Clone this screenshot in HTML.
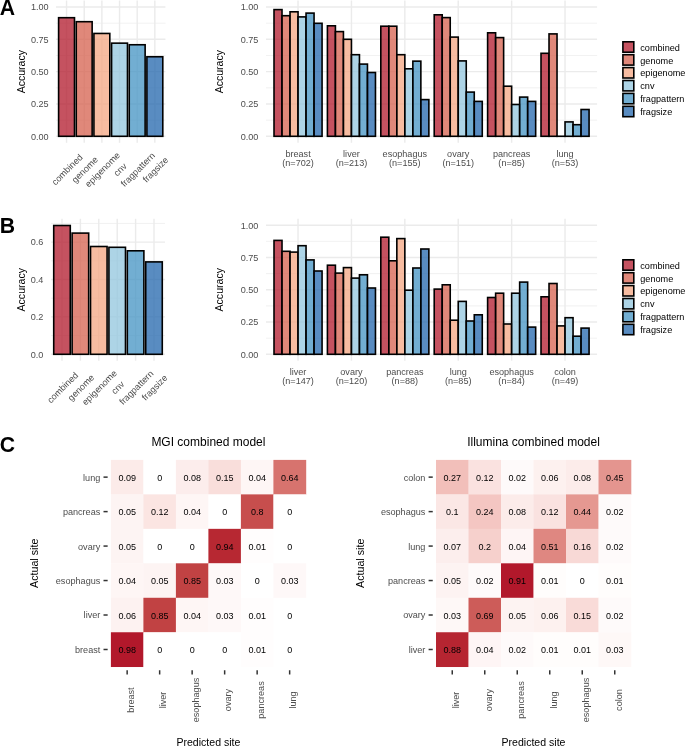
<!DOCTYPE html>
<html><head><meta charset="utf-8"><title>figure</title>
<style>
html,body{margin:0;padding:0;background:#fff;width:685px;height:746px;overflow:hidden;}
svg{display:block;filter:blur(0.4px);font-family:"Liberation Sans", sans-serif;}
</style></head>
<body><svg width="685" height="746" viewBox="0 0 685 746">
<rect x="0" y="0" width="685" height="746" fill="#fff"/>
<line x1="55.95" y1="120.14" x2="165.44" y2="120.14" stroke="#EBEBEB" stroke-width="0.71"/>
<line x1="55.95" y1="87.81" x2="165.44" y2="87.81" stroke="#EBEBEB" stroke-width="0.71"/>
<line x1="55.95" y1="55.49" x2="165.44" y2="55.49" stroke="#EBEBEB" stroke-width="0.71"/>
<line x1="55.95" y1="23.16" x2="165.44" y2="23.16" stroke="#EBEBEB" stroke-width="0.71"/>
<line x1="55.95" y1="136.3" x2="165.44" y2="136.3" stroke="#EBEBEB" stroke-width="1.42"/>
<line x1="55.95" y1="103.98" x2="165.44" y2="103.98" stroke="#EBEBEB" stroke-width="1.42"/>
<line x1="55.95" y1="71.65" x2="165.44" y2="71.65" stroke="#EBEBEB" stroke-width="1.42"/>
<line x1="55.95" y1="39.33" x2="165.44" y2="39.33" stroke="#EBEBEB" stroke-width="1.42"/>
<line x1="55.95" y1="7" x2="165.44" y2="7" stroke="#EBEBEB" stroke-width="1.42"/>
<line x1="66.55" y1="0.5" x2="66.55" y2="142.8" stroke="#EBEBEB" stroke-width="1.42"/>
<line x1="84.21" y1="0.5" x2="84.21" y2="142.8" stroke="#EBEBEB" stroke-width="1.42"/>
<line x1="101.87" y1="0.5" x2="101.87" y2="142.8" stroke="#EBEBEB" stroke-width="1.42"/>
<line x1="119.53" y1="0.5" x2="119.53" y2="142.8" stroke="#EBEBEB" stroke-width="1.42"/>
<line x1="137.19" y1="0.5" x2="137.19" y2="142.8" stroke="#EBEBEB" stroke-width="1.42"/>
<line x1="154.85" y1="0.5" x2="154.85" y2="142.8" stroke="#EBEBEB" stroke-width="1.42"/>
<rect x="58.6" y="17.7" width="15.89" height="118.6" fill="#B2182B" fill-opacity="0.75" stroke="#000" stroke-width="1.6"/>
<rect x="76.26" y="21.7" width="15.89" height="114.6" fill="#D6604D" fill-opacity="0.75" stroke="#000" stroke-width="1.6"/>
<rect x="93.92" y="33.45" width="15.89" height="102.85" fill="#F4A582" fill-opacity="0.75" stroke="#000" stroke-width="1.6"/>
<rect x="111.58" y="43.15" width="15.89" height="93.15" fill="#92C5DE" fill-opacity="0.75" stroke="#000" stroke-width="1.6"/>
<rect x="129.24" y="44.75" width="15.89" height="91.55" fill="#4393C3" fill-opacity="0.75" stroke="#000" stroke-width="1.6"/>
<rect x="146.9" y="56.75" width="15.89" height="79.55" fill="#2166AC" fill-opacity="0.75" stroke="#000" stroke-width="1.6"/>
<text x="48.6" y="139.6" font-size="9.1" fill="#4D4D4D" text-anchor="end">0.00</text>
<text x="48.6" y="107.28" font-size="9.1" fill="#4D4D4D" text-anchor="end">0.25</text>
<text x="48.6" y="74.95" font-size="9.1" fill="#4D4D4D" text-anchor="end">0.50</text>
<text x="48.6" y="42.62" font-size="9.1" fill="#4D4D4D" text-anchor="end">0.75</text>
<text x="48.6" y="10.3" font-size="9.1" fill="#4D4D4D" text-anchor="end">1.00</text>
<text x="69.4" y="171.8" font-size="9.1" fill="#4D4D4D" text-anchor="middle" transform="rotate(-45 69.4 171.8)">combined</text>
<text x="87.06" y="171.8" font-size="9.1" fill="#4D4D4D" text-anchor="middle" transform="rotate(-45 87.06 171.8)">genome</text>
<text x="104.72" y="171.8" font-size="9.1" fill="#4D4D4D" text-anchor="middle" transform="rotate(-45 104.72 171.8)">epigenome</text>
<text x="122.38" y="171.8" font-size="9.1" fill="#4D4D4D" text-anchor="middle" transform="rotate(-45 122.38 171.8)">cnv</text>
<text x="140.04" y="171.8" font-size="9.1" fill="#4D4D4D" text-anchor="middle" transform="rotate(-45 140.04 171.8)">fragpattern</text>
<text x="157.7" y="171.8" font-size="9.1" fill="#4D4D4D" text-anchor="middle" transform="rotate(-45 157.7 171.8)">fragsize</text>
<text x="25.1" y="71.65" font-size="10.55" fill="#000" text-anchor="middle" transform="rotate(-90 25.1 71.65)">Accuracy</text>
<line x1="266" y1="120.14" x2="597.08" y2="120.14" stroke="#EBEBEB" stroke-width="0.71"/>
<line x1="266" y1="87.81" x2="597.08" y2="87.81" stroke="#EBEBEB" stroke-width="0.71"/>
<line x1="266" y1="55.49" x2="597.08" y2="55.49" stroke="#EBEBEB" stroke-width="0.71"/>
<line x1="266" y1="23.16" x2="597.08" y2="23.16" stroke="#EBEBEB" stroke-width="0.71"/>
<line x1="266" y1="136.3" x2="597.08" y2="136.3" stroke="#EBEBEB" stroke-width="1.42"/>
<line x1="266" y1="103.98" x2="597.08" y2="103.98" stroke="#EBEBEB" stroke-width="1.42"/>
<line x1="266" y1="71.65" x2="597.08" y2="71.65" stroke="#EBEBEB" stroke-width="1.42"/>
<line x1="266" y1="39.33" x2="597.08" y2="39.33" stroke="#EBEBEB" stroke-width="1.42"/>
<line x1="266" y1="7" x2="597.08" y2="7" stroke="#EBEBEB" stroke-width="1.42"/>
<line x1="298.04" y1="0.5" x2="298.04" y2="142.8" stroke="#EBEBEB" stroke-width="1.42"/>
<line x1="351.44" y1="0.5" x2="351.44" y2="142.8" stroke="#EBEBEB" stroke-width="1.42"/>
<line x1="404.84" y1="0.5" x2="404.84" y2="142.8" stroke="#EBEBEB" stroke-width="1.42"/>
<line x1="458.24" y1="0.5" x2="458.24" y2="142.8" stroke="#EBEBEB" stroke-width="1.42"/>
<line x1="511.64" y1="0.5" x2="511.64" y2="142.8" stroke="#EBEBEB" stroke-width="1.42"/>
<line x1="565.04" y1="0.5" x2="565.04" y2="142.8" stroke="#EBEBEB" stroke-width="1.42"/>
<rect x="274.01" y="9.6" width="8.01" height="126.7" fill="#B2182B" fill-opacity="0.75" stroke="#000" stroke-width="1.6"/>
<rect x="282.02" y="15.7" width="8.01" height="120.6" fill="#D6604D" fill-opacity="0.75" stroke="#000" stroke-width="1.6"/>
<rect x="290.03" y="11.8" width="8.01" height="124.5" fill="#F4A582" fill-opacity="0.75" stroke="#000" stroke-width="1.6"/>
<rect x="298.04" y="16.9" width="8.01" height="119.4" fill="#92C5DE" fill-opacity="0.75" stroke="#000" stroke-width="1.6"/>
<rect x="306.05" y="13.1" width="8.01" height="123.2" fill="#4393C3" fill-opacity="0.75" stroke="#000" stroke-width="1.6"/>
<rect x="314.06" y="23.3" width="8.01" height="113" fill="#2166AC" fill-opacity="0.75" stroke="#000" stroke-width="1.6"/>
<rect x="327.41" y="25.8" width="8.01" height="110.5" fill="#B2182B" fill-opacity="0.75" stroke="#000" stroke-width="1.6"/>
<rect x="335.42" y="31.6" width="8.01" height="104.7" fill="#D6604D" fill-opacity="0.75" stroke="#000" stroke-width="1.6"/>
<rect x="343.43" y="39.3" width="8.01" height="97" fill="#F4A582" fill-opacity="0.75" stroke="#000" stroke-width="1.6"/>
<rect x="351.44" y="54.7" width="8.01" height="81.6" fill="#92C5DE" fill-opacity="0.75" stroke="#000" stroke-width="1.6"/>
<rect x="359.45" y="64.1" width="8.01" height="72.2" fill="#4393C3" fill-opacity="0.75" stroke="#000" stroke-width="1.6"/>
<rect x="367.46" y="72.5" width="8.01" height="63.8" fill="#2166AC" fill-opacity="0.75" stroke="#000" stroke-width="1.6"/>
<rect x="380.81" y="26.2" width="8.01" height="110.1" fill="#B2182B" fill-opacity="0.75" stroke="#000" stroke-width="1.6"/>
<rect x="388.82" y="26.2" width="8.01" height="110.1" fill="#D6604D" fill-opacity="0.75" stroke="#000" stroke-width="1.6"/>
<rect x="396.83" y="54.7" width="8.01" height="81.6" fill="#F4A582" fill-opacity="0.75" stroke="#000" stroke-width="1.6"/>
<rect x="404.84" y="68.8" width="8.01" height="67.5" fill="#92C5DE" fill-opacity="0.75" stroke="#000" stroke-width="1.6"/>
<rect x="412.85" y="61.15" width="8.01" height="75.15" fill="#4393C3" fill-opacity="0.75" stroke="#000" stroke-width="1.6"/>
<rect x="420.86" y="99.6" width="8.01" height="36.7" fill="#2166AC" fill-opacity="0.75" stroke="#000" stroke-width="1.6"/>
<rect x="434.21" y="14.8" width="8.01" height="121.5" fill="#B2182B" fill-opacity="0.75" stroke="#000" stroke-width="1.6"/>
<rect x="442.22" y="17.6" width="8.01" height="118.7" fill="#D6604D" fill-opacity="0.75" stroke="#000" stroke-width="1.6"/>
<rect x="450.23" y="37.1" width="8.01" height="99.2" fill="#F4A582" fill-opacity="0.75" stroke="#000" stroke-width="1.6"/>
<rect x="458.24" y="60.9" width="8.01" height="75.4" fill="#92C5DE" fill-opacity="0.75" stroke="#000" stroke-width="1.6"/>
<rect x="466.25" y="92.1" width="8.01" height="44.2" fill="#4393C3" fill-opacity="0.75" stroke="#000" stroke-width="1.6"/>
<rect x="474.26" y="101.4" width="8.01" height="34.9" fill="#2166AC" fill-opacity="0.75" stroke="#000" stroke-width="1.6"/>
<rect x="487.61" y="32.8" width="8.01" height="103.5" fill="#B2182B" fill-opacity="0.75" stroke="#000" stroke-width="1.6"/>
<rect x="495.62" y="37.6" width="8.01" height="98.7" fill="#D6604D" fill-opacity="0.75" stroke="#000" stroke-width="1.6"/>
<rect x="503.63" y="86.2" width="8.01" height="50.1" fill="#F4A582" fill-opacity="0.75" stroke="#000" stroke-width="1.6"/>
<rect x="511.64" y="104.5" width="8.01" height="31.8" fill="#92C5DE" fill-opacity="0.75" stroke="#000" stroke-width="1.6"/>
<rect x="519.65" y="97.1" width="8.01" height="39.2" fill="#4393C3" fill-opacity="0.75" stroke="#000" stroke-width="1.6"/>
<rect x="527.66" y="101.4" width="8.01" height="34.9" fill="#2166AC" fill-opacity="0.75" stroke="#000" stroke-width="1.6"/>
<rect x="541.01" y="53.3" width="8.01" height="83" fill="#B2182B" fill-opacity="0.75" stroke="#000" stroke-width="1.6"/>
<rect x="549.02" y="33.9" width="8.01" height="102.4" fill="#D6604D" fill-opacity="0.75" stroke="#000" stroke-width="1.6"/>
<rect x="557.03" y="136.28" width="8.01" height="0.02" fill="#F4A582" fill-opacity="0.75" stroke="#000" stroke-width="1.6"/>
<rect x="565.04" y="121.9" width="8.01" height="14.4" fill="#92C5DE" fill-opacity="0.75" stroke="#000" stroke-width="1.6"/>
<rect x="573.05" y="124.7" width="8.01" height="11.6" fill="#4393C3" fill-opacity="0.75" stroke="#000" stroke-width="1.6"/>
<rect x="581.06" y="109.5" width="8.01" height="26.8" fill="#2166AC" fill-opacity="0.75" stroke="#000" stroke-width="1.6"/>
<text x="258.4" y="139.6" font-size="9.1" fill="#4D4D4D" text-anchor="end">0.00</text>
<text x="258.4" y="107.28" font-size="9.1" fill="#4D4D4D" text-anchor="end">0.25</text>
<text x="258.4" y="74.95" font-size="9.1" fill="#4D4D4D" text-anchor="end">0.50</text>
<text x="258.4" y="42.62" font-size="9.1" fill="#4D4D4D" text-anchor="end">0.75</text>
<text x="258.4" y="10.3" font-size="9.1" fill="#4D4D4D" text-anchor="end">1.00</text>
<text x="298.04" y="156.9" font-size="9.1" fill="#4D4D4D" text-anchor="middle">breast</text>
<text x="298.04" y="165.7" font-size="9.1" fill="#4D4D4D" text-anchor="middle">(n=702)</text>
<text x="351.44" y="156.9" font-size="9.1" fill="#4D4D4D" text-anchor="middle">liver</text>
<text x="351.44" y="165.7" font-size="9.1" fill="#4D4D4D" text-anchor="middle">(n=213)</text>
<text x="404.84" y="156.9" font-size="9.1" fill="#4D4D4D" text-anchor="middle">esophagus</text>
<text x="404.84" y="165.7" font-size="9.1" fill="#4D4D4D" text-anchor="middle">(n=155)</text>
<text x="458.24" y="156.9" font-size="9.1" fill="#4D4D4D" text-anchor="middle">ovary</text>
<text x="458.24" y="165.7" font-size="9.1" fill="#4D4D4D" text-anchor="middle">(n=151)</text>
<text x="511.64" y="156.9" font-size="9.1" fill="#4D4D4D" text-anchor="middle">pancreas</text>
<text x="511.64" y="165.7" font-size="9.1" fill="#4D4D4D" text-anchor="middle">(n=85)</text>
<text x="565.04" y="156.9" font-size="9.1" fill="#4D4D4D" text-anchor="middle">lung</text>
<text x="565.04" y="165.7" font-size="9.1" fill="#4D4D4D" text-anchor="middle">(n=53)</text>
<text x="223" y="71.65" font-size="10.55" fill="#000" text-anchor="middle" transform="rotate(-90 223 71.65)">Accuracy</text>
<rect x="622.9" y="41.8" width="10.9" height="10.4" fill="#B2182B" fill-opacity="0.75" stroke="#000" stroke-width="1.6"/>
<text x="640.3" y="50.6" font-size="9.15" fill="#000" text-anchor="start">combined</text>
<rect x="622.9" y="54.7" width="10.9" height="10.4" fill="#D6604D" fill-opacity="0.75" stroke="#000" stroke-width="1.6"/>
<text x="640.3" y="63.5" font-size="9.15" fill="#000" text-anchor="start">genome</text>
<rect x="622.9" y="67.6" width="10.9" height="10.4" fill="#F4A582" fill-opacity="0.75" stroke="#000" stroke-width="1.6"/>
<text x="640.3" y="76.4" font-size="9.15" fill="#000" text-anchor="start">epigenome</text>
<rect x="622.9" y="80.5" width="10.9" height="10.4" fill="#92C5DE" fill-opacity="0.75" stroke="#000" stroke-width="1.6"/>
<text x="640.3" y="89.3" font-size="9.15" fill="#000" text-anchor="start">cnv</text>
<rect x="622.9" y="93.4" width="10.9" height="10.4" fill="#4393C3" fill-opacity="0.75" stroke="#000" stroke-width="1.6"/>
<text x="640.3" y="102.2" font-size="9.15" fill="#000" text-anchor="start">fragpattern</text>
<rect x="622.9" y="106.3" width="10.9" height="10.4" fill="#2166AC" fill-opacity="0.75" stroke="#000" stroke-width="1.6"/>
<text x="640.3" y="115.1" font-size="9.15" fill="#000" text-anchor="start">fragsize</text>
<line x1="50.96" y1="335.6" x2="165.04" y2="335.6" stroke="#EBEBEB" stroke-width="0.71"/>
<line x1="50.96" y1="298.2" x2="165.04" y2="298.2" stroke="#EBEBEB" stroke-width="0.71"/>
<line x1="50.96" y1="260.8" x2="165.04" y2="260.8" stroke="#EBEBEB" stroke-width="0.71"/>
<line x1="50.96" y1="223.4" x2="165.04" y2="223.4" stroke="#EBEBEB" stroke-width="0.71"/>
<line x1="50.96" y1="354.3" x2="165.04" y2="354.3" stroke="#EBEBEB" stroke-width="1.42"/>
<line x1="50.96" y1="316.9" x2="165.04" y2="316.9" stroke="#EBEBEB" stroke-width="1.42"/>
<line x1="50.96" y1="279.5" x2="165.04" y2="279.5" stroke="#EBEBEB" stroke-width="1.42"/>
<line x1="50.96" y1="242.1" x2="165.04" y2="242.1" stroke="#EBEBEB" stroke-width="1.42"/>
<line x1="62" y1="218.8" x2="62" y2="360.7" stroke="#EBEBEB" stroke-width="1.42"/>
<line x1="80.4" y1="218.8" x2="80.4" y2="360.7" stroke="#EBEBEB" stroke-width="1.42"/>
<line x1="98.8" y1="218.8" x2="98.8" y2="360.7" stroke="#EBEBEB" stroke-width="1.42"/>
<line x1="117.2" y1="218.8" x2="117.2" y2="360.7" stroke="#EBEBEB" stroke-width="1.42"/>
<line x1="135.6" y1="218.8" x2="135.6" y2="360.7" stroke="#EBEBEB" stroke-width="1.42"/>
<line x1="154" y1="218.8" x2="154" y2="360.7" stroke="#EBEBEB" stroke-width="1.42"/>
<rect x="53.72" y="225.5" width="16.56" height="128.8" fill="#B2182B" fill-opacity="0.75" stroke="#000" stroke-width="1.6"/>
<rect x="72.12" y="233.1" width="16.56" height="121.2" fill="#D6604D" fill-opacity="0.75" stroke="#000" stroke-width="1.6"/>
<rect x="90.52" y="246.5" width="16.56" height="107.8" fill="#F4A582" fill-opacity="0.75" stroke="#000" stroke-width="1.6"/>
<rect x="108.92" y="247.3" width="16.56" height="107" fill="#92C5DE" fill-opacity="0.75" stroke="#000" stroke-width="1.6"/>
<rect x="127.32" y="250.8" width="16.56" height="103.5" fill="#4393C3" fill-opacity="0.75" stroke="#000" stroke-width="1.6"/>
<rect x="145.72" y="261.9" width="16.56" height="92.4" fill="#2166AC" fill-opacity="0.75" stroke="#000" stroke-width="1.6"/>
<text x="43.3" y="357.6" font-size="9.1" fill="#4D4D4D" text-anchor="end">0.0</text>
<text x="43.3" y="320.2" font-size="9.1" fill="#4D4D4D" text-anchor="end">0.2</text>
<text x="43.3" y="282.8" font-size="9.1" fill="#4D4D4D" text-anchor="end">0.4</text>
<text x="43.3" y="245.4" font-size="9.1" fill="#4D4D4D" text-anchor="end">0.6</text>
<text x="64.85" y="389.8" font-size="9.1" fill="#4D4D4D" text-anchor="middle" transform="rotate(-45 64.85 389.8)">combined</text>
<text x="83.25" y="389.8" font-size="9.1" fill="#4D4D4D" text-anchor="middle" transform="rotate(-45 83.25 389.8)">genome</text>
<text x="101.65" y="389.8" font-size="9.1" fill="#4D4D4D" text-anchor="middle" transform="rotate(-45 101.65 389.8)">epigenome</text>
<text x="120.05" y="389.8" font-size="9.1" fill="#4D4D4D" text-anchor="middle" transform="rotate(-45 120.05 389.8)">cnv</text>
<text x="138.45" y="389.8" font-size="9.1" fill="#4D4D4D" text-anchor="middle" transform="rotate(-45 138.45 389.8)">fragpattern</text>
<text x="156.85" y="389.8" font-size="9.1" fill="#4D4D4D" text-anchor="middle" transform="rotate(-45 156.85 389.8)">fragsize</text>
<text x="24.9" y="289.75" font-size="10.55" fill="#000" text-anchor="middle" transform="rotate(-90 24.9 289.75)">Accuracy</text>
<line x1="266" y1="338.16" x2="597.08" y2="338.16" stroke="#EBEBEB" stroke-width="0.71"/>
<line x1="266" y1="305.89" x2="597.08" y2="305.89" stroke="#EBEBEB" stroke-width="0.71"/>
<line x1="266" y1="273.61" x2="597.08" y2="273.61" stroke="#EBEBEB" stroke-width="0.71"/>
<line x1="266" y1="241.34" x2="597.08" y2="241.34" stroke="#EBEBEB" stroke-width="0.71"/>
<line x1="266" y1="354.3" x2="597.08" y2="354.3" stroke="#EBEBEB" stroke-width="1.42"/>
<line x1="266" y1="322.03" x2="597.08" y2="322.03" stroke="#EBEBEB" stroke-width="1.42"/>
<line x1="266" y1="289.75" x2="597.08" y2="289.75" stroke="#EBEBEB" stroke-width="1.42"/>
<line x1="266" y1="257.48" x2="597.08" y2="257.48" stroke="#EBEBEB" stroke-width="1.42"/>
<line x1="266" y1="225.2" x2="597.08" y2="225.2" stroke="#EBEBEB" stroke-width="1.42"/>
<line x1="298.04" y1="218.8" x2="298.04" y2="360.7" stroke="#EBEBEB" stroke-width="1.42"/>
<line x1="351.44" y1="218.8" x2="351.44" y2="360.7" stroke="#EBEBEB" stroke-width="1.42"/>
<line x1="404.84" y1="218.8" x2="404.84" y2="360.7" stroke="#EBEBEB" stroke-width="1.42"/>
<line x1="458.24" y1="218.8" x2="458.24" y2="360.7" stroke="#EBEBEB" stroke-width="1.42"/>
<line x1="511.64" y1="218.8" x2="511.64" y2="360.7" stroke="#EBEBEB" stroke-width="1.42"/>
<line x1="565.04" y1="218.8" x2="565.04" y2="360.7" stroke="#EBEBEB" stroke-width="1.42"/>
<rect x="274.01" y="240.4" width="8.01" height="113.9" fill="#B2182B" fill-opacity="0.75" stroke="#000" stroke-width="1.6"/>
<rect x="282.02" y="251.3" width="8.01" height="103" fill="#D6604D" fill-opacity="0.75" stroke="#000" stroke-width="1.6"/>
<rect x="290.03" y="252.1" width="8.01" height="102.2" fill="#F4A582" fill-opacity="0.75" stroke="#000" stroke-width="1.6"/>
<rect x="298.04" y="245.7" width="8.01" height="108.6" fill="#92C5DE" fill-opacity="0.75" stroke="#000" stroke-width="1.6"/>
<rect x="306.05" y="259.9" width="8.01" height="94.4" fill="#4393C3" fill-opacity="0.75" stroke="#000" stroke-width="1.6"/>
<rect x="314.06" y="271" width="8.01" height="83.3" fill="#2166AC" fill-opacity="0.75" stroke="#000" stroke-width="1.6"/>
<rect x="327.41" y="265.2" width="8.01" height="89.1" fill="#B2182B" fill-opacity="0.75" stroke="#000" stroke-width="1.6"/>
<rect x="335.42" y="273.1" width="8.01" height="81.2" fill="#D6604D" fill-opacity="0.75" stroke="#000" stroke-width="1.6"/>
<rect x="343.43" y="267.6" width="8.01" height="86.7" fill="#F4A582" fill-opacity="0.75" stroke="#000" stroke-width="1.6"/>
<rect x="351.44" y="278.1" width="8.01" height="76.2" fill="#92C5DE" fill-opacity="0.75" stroke="#000" stroke-width="1.6"/>
<rect x="359.45" y="274.8" width="8.01" height="79.5" fill="#4393C3" fill-opacity="0.75" stroke="#000" stroke-width="1.6"/>
<rect x="367.46" y="288" width="8.01" height="66.3" fill="#2166AC" fill-opacity="0.75" stroke="#000" stroke-width="1.6"/>
<rect x="380.81" y="237.2" width="8.01" height="117.1" fill="#B2182B" fill-opacity="0.75" stroke="#000" stroke-width="1.6"/>
<rect x="388.82" y="260.8" width="8.01" height="93.5" fill="#D6604D" fill-opacity="0.75" stroke="#000" stroke-width="1.6"/>
<rect x="396.83" y="238.6" width="8.01" height="115.7" fill="#F4A582" fill-opacity="0.75" stroke="#000" stroke-width="1.6"/>
<rect x="404.84" y="290.2" width="8.01" height="64.1" fill="#92C5DE" fill-opacity="0.75" stroke="#000" stroke-width="1.6"/>
<rect x="412.85" y="268" width="8.01" height="86.3" fill="#4393C3" fill-opacity="0.75" stroke="#000" stroke-width="1.6"/>
<rect x="420.86" y="249" width="8.01" height="105.3" fill="#2166AC" fill-opacity="0.75" stroke="#000" stroke-width="1.6"/>
<rect x="434.21" y="289.1" width="8.01" height="65.2" fill="#B2182B" fill-opacity="0.75" stroke="#000" stroke-width="1.6"/>
<rect x="442.22" y="284.8" width="8.01" height="69.5" fill="#D6604D" fill-opacity="0.75" stroke="#000" stroke-width="1.6"/>
<rect x="450.23" y="320.2" width="8.01" height="34.1" fill="#F4A582" fill-opacity="0.75" stroke="#000" stroke-width="1.6"/>
<rect x="458.24" y="301.4" width="8.01" height="52.9" fill="#92C5DE" fill-opacity="0.75" stroke="#000" stroke-width="1.6"/>
<rect x="466.25" y="321" width="8.01" height="33.3" fill="#4393C3" fill-opacity="0.75" stroke="#000" stroke-width="1.6"/>
<rect x="474.26" y="314.8" width="8.01" height="39.5" fill="#2166AC" fill-opacity="0.75" stroke="#000" stroke-width="1.6"/>
<rect x="487.61" y="297.5" width="8.01" height="56.8" fill="#B2182B" fill-opacity="0.75" stroke="#000" stroke-width="1.6"/>
<rect x="495.62" y="293.2" width="8.01" height="61.1" fill="#D6604D" fill-opacity="0.75" stroke="#000" stroke-width="1.6"/>
<rect x="503.63" y="324" width="8.01" height="30.3" fill="#F4A582" fill-opacity="0.75" stroke="#000" stroke-width="1.6"/>
<rect x="511.64" y="293.2" width="8.01" height="61.1" fill="#92C5DE" fill-opacity="0.75" stroke="#000" stroke-width="1.6"/>
<rect x="519.65" y="282.1" width="8.01" height="72.2" fill="#4393C3" fill-opacity="0.75" stroke="#000" stroke-width="1.6"/>
<rect x="527.66" y="327.1" width="8.01" height="27.2" fill="#2166AC" fill-opacity="0.75" stroke="#000" stroke-width="1.6"/>
<rect x="541.01" y="296.8" width="8.01" height="57.5" fill="#B2182B" fill-opacity="0.75" stroke="#000" stroke-width="1.6"/>
<rect x="549.02" y="283.5" width="8.01" height="70.8" fill="#D6604D" fill-opacity="0.75" stroke="#000" stroke-width="1.6"/>
<rect x="557.03" y="325.9" width="8.01" height="28.4" fill="#F4A582" fill-opacity="0.75" stroke="#000" stroke-width="1.6"/>
<rect x="565.04" y="317.7" width="8.01" height="36.6" fill="#92C5DE" fill-opacity="0.75" stroke="#000" stroke-width="1.6"/>
<rect x="573.05" y="336.2" width="8.01" height="18.1" fill="#4393C3" fill-opacity="0.75" stroke="#000" stroke-width="1.6"/>
<rect x="581.06" y="328.1" width="8.01" height="26.2" fill="#2166AC" fill-opacity="0.75" stroke="#000" stroke-width="1.6"/>
<text x="258.4" y="357.6" font-size="9.1" fill="#4D4D4D" text-anchor="end">0.00</text>
<text x="258.4" y="325.33" font-size="9.1" fill="#4D4D4D" text-anchor="end">0.25</text>
<text x="258.4" y="293.05" font-size="9.1" fill="#4D4D4D" text-anchor="end">0.50</text>
<text x="258.4" y="260.78" font-size="9.1" fill="#4D4D4D" text-anchor="end">0.75</text>
<text x="258.4" y="228.5" font-size="9.1" fill="#4D4D4D" text-anchor="end">1.00</text>
<text x="298.04" y="374.9" font-size="9.1" fill="#4D4D4D" text-anchor="middle">liver</text>
<text x="298.04" y="383.7" font-size="9.1" fill="#4D4D4D" text-anchor="middle">(n=147)</text>
<text x="351.44" y="374.9" font-size="9.1" fill="#4D4D4D" text-anchor="middle">ovary</text>
<text x="351.44" y="383.7" font-size="9.1" fill="#4D4D4D" text-anchor="middle">(n=120)</text>
<text x="404.84" y="374.9" font-size="9.1" fill="#4D4D4D" text-anchor="middle">pancreas</text>
<text x="404.84" y="383.7" font-size="9.1" fill="#4D4D4D" text-anchor="middle">(n=88)</text>
<text x="458.24" y="374.9" font-size="9.1" fill="#4D4D4D" text-anchor="middle">lung</text>
<text x="458.24" y="383.7" font-size="9.1" fill="#4D4D4D" text-anchor="middle">(n=85)</text>
<text x="511.64" y="374.9" font-size="9.1" fill="#4D4D4D" text-anchor="middle">esophagus</text>
<text x="511.64" y="383.7" font-size="9.1" fill="#4D4D4D" text-anchor="middle">(n=84)</text>
<text x="565.04" y="374.9" font-size="9.1" fill="#4D4D4D" text-anchor="middle">colon</text>
<text x="565.04" y="383.7" font-size="9.1" fill="#4D4D4D" text-anchor="middle">(n=49)</text>
<text x="223" y="289.75" font-size="10.55" fill="#000" text-anchor="middle" transform="rotate(-90 223 289.75)">Accuracy</text>
<rect x="622.9" y="259.8" width="10.9" height="10.4" fill="#B2182B" fill-opacity="0.75" stroke="#000" stroke-width="1.6"/>
<text x="640.3" y="268.6" font-size="9.15" fill="#000" text-anchor="start">combined</text>
<rect x="622.9" y="272.7" width="10.9" height="10.4" fill="#D6604D" fill-opacity="0.75" stroke="#000" stroke-width="1.6"/>
<text x="640.3" y="281.5" font-size="9.15" fill="#000" text-anchor="start">genome</text>
<rect x="622.9" y="285.6" width="10.9" height="10.4" fill="#F4A582" fill-opacity="0.75" stroke="#000" stroke-width="1.6"/>
<text x="640.3" y="294.4" font-size="9.15" fill="#000" text-anchor="start">epigenome</text>
<rect x="622.9" y="298.5" width="10.9" height="10.4" fill="#92C5DE" fill-opacity="0.75" stroke="#000" stroke-width="1.6"/>
<text x="640.3" y="307.3" font-size="9.15" fill="#000" text-anchor="start">cnv</text>
<rect x="622.9" y="311.4" width="10.9" height="10.4" fill="#4393C3" fill-opacity="0.75" stroke="#000" stroke-width="1.6"/>
<text x="640.3" y="320.2" font-size="9.15" fill="#000" text-anchor="start">fragpattern</text>
<rect x="622.9" y="324.3" width="10.9" height="10.4" fill="#2166AC" fill-opacity="0.75" stroke="#000" stroke-width="1.6"/>
<text x="640.3" y="333.1" font-size="9.15" fill="#000" text-anchor="start">fragsize</text>
<text x="-0.3" y="14.7" font-size="21.2" fill="#000" text-anchor="start" font-weight="bold">A</text>
<text x="-0.3" y="233.1" font-size="21.2" fill="#000" text-anchor="start" font-weight="bold">B</text>
<text x="-0.3" y="451.5" font-size="21.2" fill="#000" text-anchor="start" font-weight="bold">C</text>
<rect x="110.9" y="459.9" width="32.8" height="34.77" fill="#FCEBE9"/>
<rect x="143.4" y="459.9" width="32.8" height="34.77" fill="#FFFFFF"/>
<rect x="175.9" y="459.9" width="32.8" height="34.77" fill="#FCEDEC"/>
<rect x="208.4" y="459.9" width="32.8" height="34.77" fill="#F9DEDB"/>
<rect x="240.9" y="459.9" width="32.8" height="34.77" fill="#FEF6F5"/>
<rect x="273.4" y="459.9" width="32.8" height="34.77" fill="#D7736E"/>
<rect x="110.9" y="494.37" width="32.8" height="34.77" fill="#FDF4F3"/>
<rect x="143.4" y="494.37" width="32.8" height="34.77" fill="#FBE5E2"/>
<rect x="175.9" y="494.37" width="32.8" height="34.77" fill="#FEF6F5"/>
<rect x="208.4" y="494.37" width="32.8" height="34.77" fill="#FFFFFF"/>
<rect x="240.9" y="494.37" width="32.8" height="34.77" fill="#C74E4D"/>
<rect x="273.4" y="494.37" width="32.8" height="34.77" fill="#FFFFFF"/>
<rect x="110.9" y="528.84" width="32.8" height="34.77" fill="#FDF4F3"/>
<rect x="143.4" y="528.84" width="32.8" height="34.77" fill="#FFFFFF"/>
<rect x="175.9" y="528.84" width="32.8" height="34.77" fill="#FFFFFF"/>
<rect x="208.4" y="528.84" width="32.8" height="34.77" fill="#B72832"/>
<rect x="240.9" y="528.84" width="32.8" height="34.77" fill="#FFFDFD"/>
<rect x="273.4" y="528.84" width="32.8" height="34.77" fill="#FFFFFF"/>
<rect x="110.9" y="563.31" width="32.8" height="34.77" fill="#FEF6F5"/>
<rect x="143.4" y="563.31" width="32.8" height="34.77" fill="#FDF4F3"/>
<rect x="175.9" y="563.31" width="32.8" height="34.77" fill="#C14243"/>
<rect x="208.4" y="563.31" width="32.8" height="34.77" fill="#FEF8F8"/>
<rect x="240.9" y="563.31" width="32.8" height="34.77" fill="#FFFFFF"/>
<rect x="273.4" y="563.31" width="32.8" height="34.77" fill="#FEF8F8"/>
<rect x="110.9" y="597.78" width="32.8" height="34.77" fill="#FDF2F1"/>
<rect x="143.4" y="597.78" width="32.8" height="34.77" fill="#C14243"/>
<rect x="175.9" y="597.78" width="32.8" height="34.77" fill="#FEF6F5"/>
<rect x="208.4" y="597.78" width="32.8" height="34.77" fill="#FEF8F8"/>
<rect x="240.9" y="597.78" width="32.8" height="34.77" fill="#FFFDFD"/>
<rect x="273.4" y="597.78" width="32.8" height="34.77" fill="#FFFFFF"/>
<rect x="110.9" y="632.25" width="32.8" height="34.77" fill="#B2182B"/>
<rect x="143.4" y="632.25" width="32.8" height="34.77" fill="#FFFFFF"/>
<rect x="175.9" y="632.25" width="32.8" height="34.77" fill="#FFFFFF"/>
<rect x="208.4" y="632.25" width="32.8" height="34.77" fill="#FFFFFF"/>
<rect x="240.9" y="632.25" width="32.8" height="34.77" fill="#FFFDFD"/>
<rect x="273.4" y="632.25" width="32.8" height="34.77" fill="#FFFFFF"/>
<text x="127.15" y="480.63" font-size="9" fill="#000" text-anchor="middle">0.09</text>
<text x="159.65" y="480.63" font-size="9" fill="#000" text-anchor="middle">0</text>
<text x="192.15" y="480.63" font-size="9" fill="#000" text-anchor="middle">0.08</text>
<text x="224.65" y="480.63" font-size="9" fill="#000" text-anchor="middle">0.15</text>
<text x="257.15" y="480.63" font-size="9" fill="#000" text-anchor="middle">0.04</text>
<text x="289.65" y="480.63" font-size="9" fill="#000" text-anchor="middle">0.64</text>
<text x="127.15" y="515.11" font-size="9" fill="#000" text-anchor="middle">0.05</text>
<text x="159.65" y="515.11" font-size="9" fill="#000" text-anchor="middle">0.12</text>
<text x="192.15" y="515.11" font-size="9" fill="#000" text-anchor="middle">0.04</text>
<text x="224.65" y="515.11" font-size="9" fill="#000" text-anchor="middle">0</text>
<text x="257.15" y="515.11" font-size="9" fill="#000" text-anchor="middle">0.8</text>
<text x="289.65" y="515.11" font-size="9" fill="#000" text-anchor="middle">0</text>
<text x="127.15" y="549.57" font-size="9" fill="#000" text-anchor="middle">0.05</text>
<text x="159.65" y="549.57" font-size="9" fill="#000" text-anchor="middle">0</text>
<text x="192.15" y="549.57" font-size="9" fill="#000" text-anchor="middle">0</text>
<text x="224.65" y="549.57" font-size="9" fill="#000" text-anchor="middle">0.94</text>
<text x="257.15" y="549.57" font-size="9" fill="#000" text-anchor="middle">0.01</text>
<text x="289.65" y="549.57" font-size="9" fill="#000" text-anchor="middle">0</text>
<text x="127.15" y="584.04" font-size="9" fill="#000" text-anchor="middle">0.04</text>
<text x="159.65" y="584.04" font-size="9" fill="#000" text-anchor="middle">0.05</text>
<text x="192.15" y="584.04" font-size="9" fill="#000" text-anchor="middle">0.85</text>
<text x="224.65" y="584.04" font-size="9" fill="#000" text-anchor="middle">0.03</text>
<text x="257.15" y="584.04" font-size="9" fill="#000" text-anchor="middle">0</text>
<text x="289.65" y="584.04" font-size="9" fill="#000" text-anchor="middle">0.03</text>
<text x="127.15" y="618.51" font-size="9" fill="#000" text-anchor="middle">0.06</text>
<text x="159.65" y="618.51" font-size="9" fill="#000" text-anchor="middle">0.85</text>
<text x="192.15" y="618.51" font-size="9" fill="#000" text-anchor="middle">0.04</text>
<text x="224.65" y="618.51" font-size="9" fill="#000" text-anchor="middle">0.03</text>
<text x="257.15" y="618.51" font-size="9" fill="#000" text-anchor="middle">0.01</text>
<text x="289.65" y="618.51" font-size="9" fill="#000" text-anchor="middle">0</text>
<text x="127.15" y="652.99" font-size="9" fill="#000" text-anchor="middle">0.98</text>
<text x="159.65" y="652.99" font-size="9" fill="#000" text-anchor="middle">0</text>
<text x="192.15" y="652.99" font-size="9" fill="#000" text-anchor="middle">0</text>
<text x="224.65" y="652.99" font-size="9" fill="#000" text-anchor="middle">0</text>
<text x="257.15" y="652.99" font-size="9" fill="#000" text-anchor="middle">0.01</text>
<text x="289.65" y="652.99" font-size="9" fill="#000" text-anchor="middle">0</text>
<line x1="103.5" y1="477.13" x2="107.65" y2="477.13" stroke="#333" stroke-width="1.5"/>
<text x="100.3" y="480.58" font-size="9.1" fill="#4D4D4D" text-anchor="end">lung</text>
<line x1="103.5" y1="511.61" x2="107.65" y2="511.61" stroke="#333" stroke-width="1.5"/>
<text x="100.3" y="515.06" font-size="9.1" fill="#4D4D4D" text-anchor="end">pancreas</text>
<line x1="103.5" y1="546.07" x2="107.65" y2="546.07" stroke="#333" stroke-width="1.5"/>
<text x="100.3" y="549.52" font-size="9.1" fill="#4D4D4D" text-anchor="end">ovary</text>
<line x1="103.5" y1="580.54" x2="107.65" y2="580.54" stroke="#333" stroke-width="1.5"/>
<text x="100.3" y="584" font-size="9.1" fill="#4D4D4D" text-anchor="end">esophagus</text>
<line x1="103.5" y1="615.01" x2="107.65" y2="615.01" stroke="#333" stroke-width="1.5"/>
<text x="100.3" y="618.47" font-size="9.1" fill="#4D4D4D" text-anchor="end">liver</text>
<line x1="103.5" y1="649.49" x2="107.65" y2="649.49" stroke="#333" stroke-width="1.5"/>
<text x="100.3" y="652.94" font-size="9.1" fill="#4D4D4D" text-anchor="end">breast</text>
<line x1="127.15" y1="670.25" x2="127.15" y2="674.5" stroke="#333" stroke-width="1.5"/>
<text x="133.95" y="700" font-size="9.1" fill="#4D4D4D" text-anchor="middle" transform="rotate(-90 133.95 700)">breast</text>
<line x1="159.65" y1="670.25" x2="159.65" y2="674.5" stroke="#333" stroke-width="1.5"/>
<text x="166.45" y="700" font-size="9.1" fill="#4D4D4D" text-anchor="middle" transform="rotate(-90 166.45 700)">liver</text>
<line x1="192.15" y1="670.25" x2="192.15" y2="674.5" stroke="#333" stroke-width="1.5"/>
<text x="198.95" y="700" font-size="9.1" fill="#4D4D4D" text-anchor="middle" transform="rotate(-90 198.95 700)">esophagus</text>
<line x1="224.65" y1="670.25" x2="224.65" y2="674.5" stroke="#333" stroke-width="1.5"/>
<text x="231.45" y="700" font-size="9.1" fill="#4D4D4D" text-anchor="middle" transform="rotate(-90 231.45 700)">ovary</text>
<line x1="257.15" y1="670.25" x2="257.15" y2="674.5" stroke="#333" stroke-width="1.5"/>
<text x="263.95" y="700" font-size="9.1" fill="#4D4D4D" text-anchor="middle" transform="rotate(-90 263.95 700)">pancreas</text>
<line x1="289.65" y1="670.25" x2="289.65" y2="674.5" stroke="#333" stroke-width="1.5"/>
<text x="296.45" y="700" font-size="9.1" fill="#4D4D4D" text-anchor="middle" transform="rotate(-90 296.45 700)">lung</text>
<text x="208.4" y="445.8" font-size="12" fill="#000" text-anchor="middle">MGI combined model</text>
<text x="208.4" y="745.6" font-size="10.55" fill="#000" text-anchor="middle">Predicted site</text>
<rect x="436" y="459.9" width="32.8" height="34.77" fill="#F2BFBA"/>
<rect x="468.5" y="459.9" width="32.8" height="34.77" fill="#FAE2E0"/>
<rect x="501" y="459.9" width="32.8" height="34.77" fill="#FEFAFA"/>
<rect x="533.5" y="459.9" width="32.8" height="34.77" fill="#FDF1EF"/>
<rect x="566" y="459.9" width="32.8" height="34.77" fill="#FCECEA"/>
<rect x="598.5" y="459.9" width="32.8" height="34.77" fill="#E4958F"/>
<rect x="436" y="494.37" width="32.8" height="34.77" fill="#FBE7E5"/>
<rect x="468.5" y="494.37" width="32.8" height="34.77" fill="#F4C6C2"/>
<rect x="501" y="494.37" width="32.8" height="34.77" fill="#FCECEA"/>
<rect x="533.5" y="494.37" width="32.8" height="34.77" fill="#FAE2E0"/>
<rect x="566" y="494.37" width="32.8" height="34.77" fill="#E59891"/>
<rect x="598.5" y="494.37" width="32.8" height="34.77" fill="#FEFAFA"/>
<rect x="436" y="528.84" width="32.8" height="34.77" fill="#FCEEED"/>
<rect x="468.5" y="528.84" width="32.8" height="34.77" fill="#F6D0CC"/>
<rect x="501" y="528.84" width="32.8" height="34.77" fill="#FEF5F5"/>
<rect x="533.5" y="528.84" width="32.8" height="34.77" fill="#DF8781"/>
<rect x="566" y="528.84" width="32.8" height="34.77" fill="#F8D9D6"/>
<rect x="598.5" y="528.84" width="32.8" height="34.77" fill="#FEFAFA"/>
<rect x="436" y="563.31" width="32.8" height="34.77" fill="#FDF3F2"/>
<rect x="468.5" y="563.31" width="32.8" height="34.77" fill="#FEFAFA"/>
<rect x="501" y="563.31" width="32.8" height="34.77" fill="#B2182B"/>
<rect x="533.5" y="563.31" width="32.8" height="34.77" fill="#FFFDFC"/>
<rect x="566" y="563.31" width="32.8" height="34.77" fill="#FFFFFF"/>
<rect x="598.5" y="563.31" width="32.8" height="34.77" fill="#FFFDFC"/>
<rect x="436" y="597.78" width="32.8" height="34.77" fill="#FEF8F7"/>
<rect x="468.5" y="597.78" width="32.8" height="34.77" fill="#CD5C59"/>
<rect x="501" y="597.78" width="32.8" height="34.77" fill="#FDF3F2"/>
<rect x="533.5" y="597.78" width="32.8" height="34.77" fill="#FDF1EF"/>
<rect x="566" y="597.78" width="32.8" height="34.77" fill="#F9DBD8"/>
<rect x="598.5" y="597.78" width="32.8" height="34.77" fill="#FEFAFA"/>
<rect x="436" y="632.25" width="32.8" height="34.77" fill="#B62531"/>
<rect x="468.5" y="632.25" width="32.8" height="34.77" fill="#FEF5F5"/>
<rect x="501" y="632.25" width="32.8" height="34.77" fill="#FEFAFA"/>
<rect x="533.5" y="632.25" width="32.8" height="34.77" fill="#FFFDFC"/>
<rect x="566" y="632.25" width="32.8" height="34.77" fill="#FFFDFC"/>
<rect x="598.5" y="632.25" width="32.8" height="34.77" fill="#FEF8F7"/>
<text x="452.25" y="480.63" font-size="9" fill="#000" text-anchor="middle">0.27</text>
<text x="484.75" y="480.63" font-size="9" fill="#000" text-anchor="middle">0.12</text>
<text x="517.25" y="480.63" font-size="9" fill="#000" text-anchor="middle">0.02</text>
<text x="549.75" y="480.63" font-size="9" fill="#000" text-anchor="middle">0.06</text>
<text x="582.25" y="480.63" font-size="9" fill="#000" text-anchor="middle">0.08</text>
<text x="614.75" y="480.63" font-size="9" fill="#000" text-anchor="middle">0.45</text>
<text x="452.25" y="515.11" font-size="9" fill="#000" text-anchor="middle">0.1</text>
<text x="484.75" y="515.11" font-size="9" fill="#000" text-anchor="middle">0.24</text>
<text x="517.25" y="515.11" font-size="9" fill="#000" text-anchor="middle">0.08</text>
<text x="549.75" y="515.11" font-size="9" fill="#000" text-anchor="middle">0.12</text>
<text x="582.25" y="515.11" font-size="9" fill="#000" text-anchor="middle">0.44</text>
<text x="614.75" y="515.11" font-size="9" fill="#000" text-anchor="middle">0.02</text>
<text x="452.25" y="549.57" font-size="9" fill="#000" text-anchor="middle">0.07</text>
<text x="484.75" y="549.57" font-size="9" fill="#000" text-anchor="middle">0.2</text>
<text x="517.25" y="549.57" font-size="9" fill="#000" text-anchor="middle">0.04</text>
<text x="549.75" y="549.57" font-size="9" fill="#000" text-anchor="middle">0.51</text>
<text x="582.25" y="549.57" font-size="9" fill="#000" text-anchor="middle">0.16</text>
<text x="614.75" y="549.57" font-size="9" fill="#000" text-anchor="middle">0.02</text>
<text x="452.25" y="584.04" font-size="9" fill="#000" text-anchor="middle">0.05</text>
<text x="484.75" y="584.04" font-size="9" fill="#000" text-anchor="middle">0.02</text>
<text x="517.25" y="584.04" font-size="9" fill="#000" text-anchor="middle">0.91</text>
<text x="549.75" y="584.04" font-size="9" fill="#000" text-anchor="middle">0.01</text>
<text x="582.25" y="584.04" font-size="9" fill="#000" text-anchor="middle">0</text>
<text x="614.75" y="584.04" font-size="9" fill="#000" text-anchor="middle">0.01</text>
<text x="452.25" y="618.51" font-size="9" fill="#000" text-anchor="middle">0.03</text>
<text x="484.75" y="618.51" font-size="9" fill="#000" text-anchor="middle">0.69</text>
<text x="517.25" y="618.51" font-size="9" fill="#000" text-anchor="middle">0.05</text>
<text x="549.75" y="618.51" font-size="9" fill="#000" text-anchor="middle">0.06</text>
<text x="582.25" y="618.51" font-size="9" fill="#000" text-anchor="middle">0.15</text>
<text x="614.75" y="618.51" font-size="9" fill="#000" text-anchor="middle">0.02</text>
<text x="452.25" y="652.99" font-size="9" fill="#000" text-anchor="middle">0.88</text>
<text x="484.75" y="652.99" font-size="9" fill="#000" text-anchor="middle">0.04</text>
<text x="517.25" y="652.99" font-size="9" fill="#000" text-anchor="middle">0.02</text>
<text x="549.75" y="652.99" font-size="9" fill="#000" text-anchor="middle">0.01</text>
<text x="582.25" y="652.99" font-size="9" fill="#000" text-anchor="middle">0.01</text>
<text x="614.75" y="652.99" font-size="9" fill="#000" text-anchor="middle">0.03</text>
<line x1="428.6" y1="477.13" x2="432.75" y2="477.13" stroke="#333" stroke-width="1.5"/>
<text x="425.4" y="480.58" font-size="9.1" fill="#4D4D4D" text-anchor="end">colon</text>
<line x1="428.6" y1="511.61" x2="432.75" y2="511.61" stroke="#333" stroke-width="1.5"/>
<text x="425.4" y="515.06" font-size="9.1" fill="#4D4D4D" text-anchor="end">esophagus</text>
<line x1="428.6" y1="546.07" x2="432.75" y2="546.07" stroke="#333" stroke-width="1.5"/>
<text x="425.4" y="549.52" font-size="9.1" fill="#4D4D4D" text-anchor="end">lung</text>
<line x1="428.6" y1="580.54" x2="432.75" y2="580.54" stroke="#333" stroke-width="1.5"/>
<text x="425.4" y="584" font-size="9.1" fill="#4D4D4D" text-anchor="end">pancreas</text>
<line x1="428.6" y1="615.01" x2="432.75" y2="615.01" stroke="#333" stroke-width="1.5"/>
<text x="425.4" y="618.47" font-size="9.1" fill="#4D4D4D" text-anchor="end">ovary</text>
<line x1="428.6" y1="649.49" x2="432.75" y2="649.49" stroke="#333" stroke-width="1.5"/>
<text x="425.4" y="652.94" font-size="9.1" fill="#4D4D4D" text-anchor="end">liver</text>
<line x1="452.25" y1="670.25" x2="452.25" y2="674.5" stroke="#333" stroke-width="1.5"/>
<text x="459.05" y="700" font-size="9.1" fill="#4D4D4D" text-anchor="middle" transform="rotate(-90 459.05 700)">liver</text>
<line x1="484.75" y1="670.25" x2="484.75" y2="674.5" stroke="#333" stroke-width="1.5"/>
<text x="491.55" y="700" font-size="9.1" fill="#4D4D4D" text-anchor="middle" transform="rotate(-90 491.55 700)">ovary</text>
<line x1="517.25" y1="670.25" x2="517.25" y2="674.5" stroke="#333" stroke-width="1.5"/>
<text x="524.05" y="700" font-size="9.1" fill="#4D4D4D" text-anchor="middle" transform="rotate(-90 524.05 700)">pancreas</text>
<line x1="549.75" y1="670.25" x2="549.75" y2="674.5" stroke="#333" stroke-width="1.5"/>
<text x="556.55" y="700" font-size="9.1" fill="#4D4D4D" text-anchor="middle" transform="rotate(-90 556.55 700)">lung</text>
<line x1="582.25" y1="670.25" x2="582.25" y2="674.5" stroke="#333" stroke-width="1.5"/>
<text x="589.05" y="700" font-size="9.1" fill="#4D4D4D" text-anchor="middle" transform="rotate(-90 589.05 700)">esophagus</text>
<line x1="614.75" y1="670.25" x2="614.75" y2="674.5" stroke="#333" stroke-width="1.5"/>
<text x="621.55" y="700" font-size="9.1" fill="#4D4D4D" text-anchor="middle" transform="rotate(-90 621.55 700)">colon</text>
<text x="533.5" y="445.8" font-size="12" fill="#000" text-anchor="middle">Illumina combined model</text>
<text x="533.5" y="745.6" font-size="10.55" fill="#000" text-anchor="middle">Predicted site</text>
<text x="37.9" y="563.3" font-size="10.7" fill="#000" text-anchor="middle" transform="rotate(-90 37.9 563.3)">Actual site</text>
<text x="363.7" y="563.3" font-size="10.7" fill="#000" text-anchor="middle" transform="rotate(-90 363.7 563.3)">Actual site</text>
</svg></body></html>
